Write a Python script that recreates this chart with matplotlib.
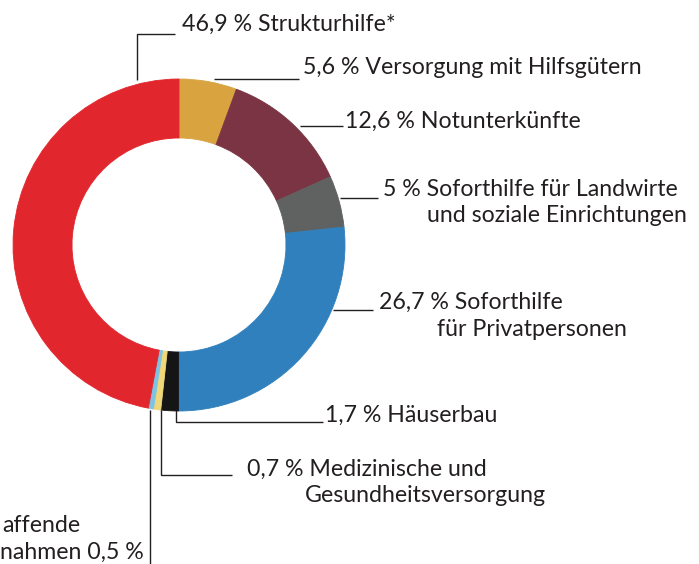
import matplotlib
matplotlib.use("Agg")
import matplotlib.pyplot as plt

# ---- data (clockwise from 12 o'clock) ----
categories = [
    "Versorgung mit Hilfsgütern",
    "Notunterkünfte",
    "Soforthilfe für Landwirte und soziale Einrichtungen",
    "Soforthilfe für Privatpersonen",
    "Häuserbau",
    "Medizinische und Gesundheitsversorgung",
    "Beschäftigungsschaffende Maßnahmen",
    "Strukturhilfe*",
]
values = [5.6, 12.6, 5.0, 26.7, 1.7, 0.7, 0.5, 46.9]
colors = ["#d9a440", "#7b3443", "#5f6261", "#2f80bd", "#151515",
          "#f0d77a", "#7fc3e2", "#e2262d"]

def pct(v):
    return f"{v:g}".replace(".", ",") + " %"

W, H, DPI = 699, 564, 100
fig = plt.figure(figsize=(W / DPI, H / DPI), dpi=DPI)
ax = fig.add_axes([0, 0, 1, 1])

cx, cy, R, ring = 179, 245, 166, 59
ax.pie(values, colors=colors, startangle=-90, counterclock=True,
       center=(cx, cy), radius=R,
       wedgeprops=dict(width=ring, linewidth=0.6))
for w, c in zip(ax.patches, colors):
    w.set_edgecolor(c)

ax.set_xlim(0, W)
ax.set_ylim(H, 0)
ax.set_aspect("equal")
ax.axis("off")

FONT = "Lato"
FS = 16.7
TC = "#231f20"
LW = 1.0

def txt(x, y, s):
    ax.text(x, y, s, fontsize=FS, family=FONT, color=TC,
            ha="left", va="center")

def line(xs, ys):
    ax.plot(xs, ys, color=TC, lw=LW, solid_capstyle="butt",
            solid_joinstyle="miter")

# Strukturhilfe
line([137, 137, 175], [80, 34, 34])
txt(182, 24, f"{pct(values[7])} {categories[7]}")
# Versorgung
line([214, 299], [79, 79])
txt(303, 68, f"{pct(values[0])} {categories[0]}")
# Notunterkünfte
line([300, 343], [126, 126])
txt(345, 121, f"{pct(values[1])} {categories[1]}")
# Landwirte
line([340, 378], [198, 198])
txt(383, 189, f"{pct(values[2])} Soforthilfe für Landwirte")
txt(427, 215, "und soziale Einrichtungen")
# Privatpersonen
line([333, 373], [310, 310])
txt(379, 302, f"{pct(values[3])} Soforthilfe")
txt(437, 330, "für Privatpersonen")
# Häuserbau
line([176, 176, 323], [410, 422, 422])
txt(325, 415, f"{pct(values[4])} {categories[4]}")
# Medizinische
line([161, 161, 232], [410, 475, 475])
txt(247, 469, f"{pct(values[5])} Medizinische und")
txt(305, 495, "Gesundheitsversorgung")
# Beschäftigung (cropped at left edge in original)
line([150, 150], [410, 564])
txt(2, 525, "affende")
txt(0, 552, f"nahmen {pct(values[6])}")

fig.savefig("out.png", dpi=DPI)
